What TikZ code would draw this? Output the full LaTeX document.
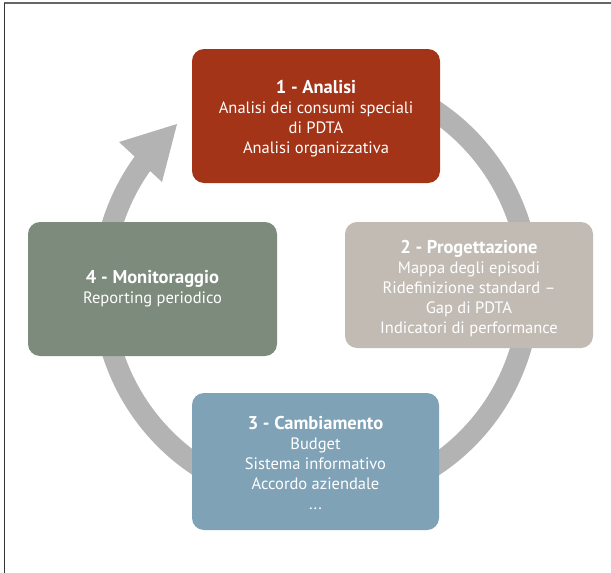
\documentclass[tikz,border=0pt]{standalone}
\usepackage{fontspec}
\setmainfont{PT Sans}
\usetikzlibrary{calc}
\definecolor{cRed}{HTML}{A43417}
\definecolor{cBeige}{HTML}{C2BBB4}
\definecolor{cBlue}{HTML}{7FA2B6}
\definecolor{cGreen}{HTML}{7D8B7C}
\definecolor{cRing}{HTML}{B3B3B3}
\tikzset{
  stagebox/.style={rounded corners=12pt, draw=none, text=white, align=center,
    font=\fontsize{16.5}{20}\selectfont, inner sep=0pt},
  ringline/.style={draw=cRing, line width=21pt},
}
\newcommand{\stitle}[1]{{\fontsize{18.5}{20}\selectfont\bfseries #1}}
\begin{document}
\begin{tikzpicture}[x=1pt,y=-1pt]
\useasboundingbox (0,0) rectangle (611,573);
\fill[white] (0,0) rectangle (611,573);
% frame
\draw[color=black!60, line width=1.5pt] (4,3) -- (611,3);
\draw[color=black!80, line width=0.8pt] (4,3) -- (4,573);
% ring
\coordinate (c) at (316,288);
\draw[ringline] ($(c)+(-115:213.5)$) arc[start angle=-115, end angle=217, radius=213.5];
\coordinate (tip) at (177,124);
\coordinate (w1) at (119,142);
\coordinate (w2) at (162,182);
\fill[cRing] (tip) -- (w1) -- (w2) -- cycle;
% boxes
\node[stagebox, fill=cRed, minimum width=248pt, minimum height=134pt] (n1) at (316,116) {};
\node[stagebox, fill=cBeige, minimum width=248pt, minimum height=126pt] (n2) at (469,285) {};
\node[stagebox, fill=cBlue, minimum width=247pt, minimum height=137pt] (n3) at (315.5,461.5) {};
\node[stagebox, fill=cGreen, minimum width=249pt, minimum height=134pt] (n4) at (152.5,289) {};
% texts
\node[stagebox] (t1) at (316,119)
  {\stitle{1 - Analisi}\\Analisi dei consumi speciali\\di PDTA\\Analisi organizzativa};
\node[stagebox] (t2) at (469,289)
  {\stitle{2 - Progettazione}\\Mappa degli episodi\\Ridefinizione standard --\\Gap di PDTA\\Indicatori di performance};
\node[stagebox] (t3) at (315.5,463)
  {\stitle{3 - Cambiamento}\\Budget\\Sistema informativo\\Accordo aziendale\\...};
\node[stagebox] (t4) at (152.5,289)
  {\stitle{4 - Monitoraggio}\\Reporting periodico};
\end{tikzpicture}
\end{document}
